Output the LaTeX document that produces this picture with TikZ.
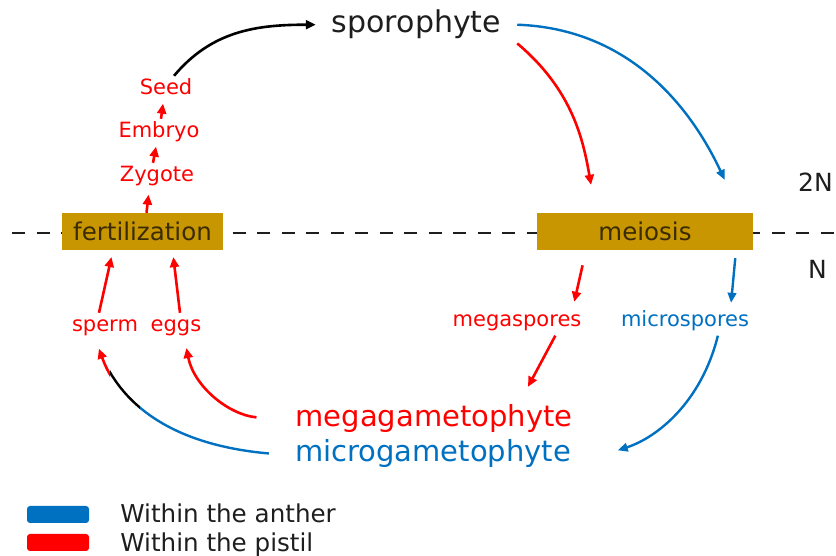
\documentclass[tikz,border=0pt]{standalone}
\usepackage{fontspec}
\setmainfont{DejaVu Sans}
\usetikzlibrary{positioning, arrows.meta}
\definecolor{antherblue}{HTML}{0070C0}
\definecolor{pistilred}{HTML}{FF0000}
\definecolor{stagegold}{HTML}{C89600}
\definecolor{stagetext}{HTML}{3A2C00}
\definecolor{inkgrey}{HTML}{1E1E1E}
\tikzset{
  stagebox/.style={fill=stagegold, text=stagetext, inner sep=0pt,
    minimum height=37pt, font=\fontsize{24.5}{28}\selectfont},
  steplabel/.style={inner sep=4pt, text height=15pt, text depth=4.5pt,
    font=\fontsize{21}{24}\selectfont},
  bigname/.style={inner xsep=20pt, inner ysep=3pt,
    font=\fontsize{29}{33}\selectfont},
  pistilarrow/.style={pistilred, line width=2.6pt,
    -{Triangle[length=10pt,width=9pt]}},
  antherarrow/.style={antherblue, line width=2.4pt,
    -{Triangle[length=10pt,width=8.5pt]}},
  keybox/.style={minimum width=62pt, minimum height=17pt, inner sep=0pt,
    rounded corners=3pt},
  keytext/.style={inner sep=0pt, text height=18pt, text depth=5pt,
    text=inkgrey, font=\fontsize{24.6}{28}\selectfont},
}
\begin{document}
\begin{tikzpicture}[x=1pt,y=1pt]
\useasboundingbox (0,0) rectangle (836,556);
\def\dividery{323}
\coordinate (DividerLeft) at (12,\dividery);
\coordinate (DividerRight) at (836,\dividery);

\draw[inkgrey, line width=2.4pt, dash pattern=on 13pt off 11.5pt]
    (DividerLeft) -- (DividerRight);

\node[stagebox, minimum width=161pt] (Fertilization) at (142.5,324.5) {fertilization};
\node[stagebox, minimum width=216pt] (Meiosis) at (645,324.5) {meiosis};

\node[bigname, inner xsep=16pt, inner ysep=4pt, text=inkgrey, anchor=base,
    font=\fontsize{30}{34}\selectfont] (Sporophyte) at (416.5,523) {sporophyte};
\node[bigname, text=pistilred, anchor=base] (Megagametophyte) at (434,129) {megagametophyte};
\node[bigname, text=antherblue, anchor=base] (Microgametophyte) at (433,94) {microgametophyte};

\node[steplabel, text=pistilred, anchor=base] (Zygote) at (157,374) {Zygote};
\node[steplabel, text=pistilred, anchor=base] (Embryo) at (159,418) {Embryo};
\node[steplabel, text=pistilred, anchor=base] (Seed) at (166,461) {Seed};
\node[steplabel, text=pistilred, anchor=base] (Sperm) at (105,224) {sperm};
\node[steplabel, text=pistilred, anchor=base] (Eggs) at (176,224) {eggs};
\node[steplabel, text=pistilred, anchor=base] (Megaspores) at (517,229) {megaspores};
\node[steplabel, text=antherblue, anchor=base] (Microspores) at (685,229) {microspores};

\node[inner sep=0pt, anchor=base west, text=inkgrey,
    font=\fontsize{25}{28}\selectfont] (Diploid) at (798,364) {2N};
\node[inner sep=0pt, anchor=base west, text=inkgrey,
    font=\fontsize{25}{28}\selectfont] (Haploid) at (808,277) {N};

% up the seed stack
\draw[pistilarrow, shorten >=4pt] ([xshift=4pt]Fertilization.north) -- ([xshift=-8pt]Zygote.south);
\draw[pistilarrow] ([xshift=-4pt]Zygote.north) -- ([xshift=-3pt]Embryo.south);
\draw[pistilarrow] ([xshift=2pt]Embryo.north) -- ([xshift=-3pt]Seed.south);
\draw[black, line width=2.6pt, -{Triangle[length=10pt,width=9pt]}]
    (Seed.60) to[out=50,in=180] (Sporophyte.west);

% sporophyte down to meiosis
\draw[pistilarrow, shorten >=28.4pt]
    (Sporophyte.south east) to[out=-40,in=100] ([xshift=-49pt]Meiosis.north);
\draw[antherarrow, shorten >=36.4pt]
    (Sporophyte.east) to[out=-2,in=115] ([xshift=95pt]Meiosis.north);

% spores
\draw[pistilarrow, shorten <=15.5pt, shorten >=6.2pt]
    ([xshift=-59pt]Meiosis.south) -- (Megaspores.14);
\draw[antherarrow, shorten <=8pt, shorten >=5pt]
    ([xshift=91pt]Meiosis.south) -- (Microspores.17);
\draw[pistilarrow, shorten >=17pt]
    (Megaspores.-20) -- ([xshift=86pt]Megagametophyte.north);
\draw[antherarrow, shorten >=28pt]
    (Microspores.-23) to[out=-104,in=18] ([yshift=-5pt]Microgametophyte.east);

% gametophytes back to gametes
\draw[pistilarrow, shorten <=19pt, shorten >=7.5pt]
    (Megagametophyte.west) to[out=175,in=-79] ([xshift=9pt]Eggs.south);
\begin{scope}
  \clip (0,0) rectangle (110,556);
  \draw[pistilarrow, shorten <=6pt, shorten >=8.5pt]
      (Microgametophyte.west) to[out=175,in=-70] ([xshift=-9pt]Sperm.south);
\end{scope}
\begin{scope}
  \clip (110,0) rectangle (140,556);
  \draw[black, line width=2.4pt, shorten <=6pt, shorten >=8.5pt]
      (Microgametophyte.west) to[out=175,in=-70] ([xshift=-9pt]Sperm.south);
\end{scope}
\begin{scope}
  \clip (140,0) rectangle (836,556);
  \draw[antherblue, line width=2.4pt, shorten <=6pt, shorten >=8.5pt]
      (Microgametophyte.west) to[out=175,in=-70] ([xshift=-9pt]Sperm.south);
\end{scope}

\draw[pistilarrow, shorten >=7pt] ([xshift=-6pt]Sperm.north) -- ([xshift=-29.5pt]Fertilization.south);
\draw[pistilarrow, shorten >=7pt] ([xshift=4pt]Eggs.north) -- ([xshift=30pt]Fertilization.south);

% legend
\node[keybox, fill=antherblue] (AntherKey) at (58,41.5) {};
\node[keybox, fill=pistilred] (PistilKey) at (58,13.5) {};
\node[keytext, right=31pt of AntherKey, yshift=-2pt] (AntherText) {Within the anther};
\node[keytext, right=31pt of PistilKey, yshift=-2.5pt] (PistilText) {Within the pistil};
\end{tikzpicture}
\end{document}
